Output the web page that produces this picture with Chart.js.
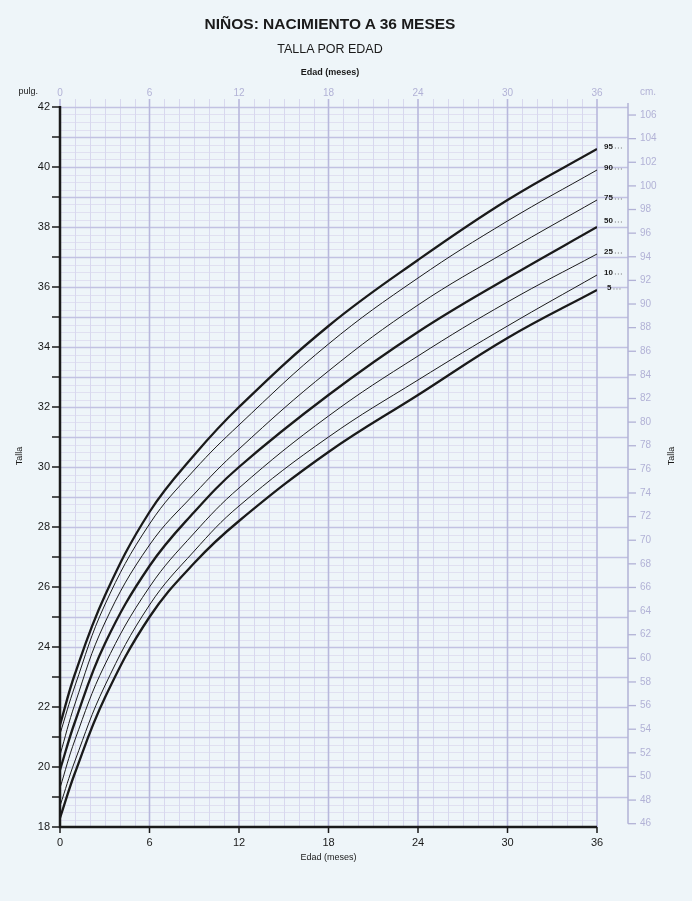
<!DOCTYPE html>
<html lang="es">
<head>
  <meta charset="UTF-8">
  <title>Niños: nacimiento a 36 meses - Talla por edad</title>
  <script src="https://cdn.jsdelivr.net/npm/chart.js"></script>
  <style>
    body {
      margin: 0;
      background: #eef5f9;
      font-family: "Liberation Sans", Arial, sans-serif;
    }
    #wrap {
      position: relative;
      width: 692px;
      height: 901px;
    }
    canvas {
      position: absolute;
      left: 0;
      top: 0;
    }
    .t {
      position: absolute;
      left: 0;
      width: 660px;
      text-align: center;
      color: #1a1a1a;
    }
    #title { top: 15px; font-size: 15.5px; font-weight: bold; }
    #subtitle { top: 42px; font-size: 12.5px; }
    #toplabel { top: 67px; font-size: 9px; font-weight: bold; }
  </style>
</head>
<body>
  <div id="wrap">
    <canvas id="chart" width="692" height="901"></canvas>
    <div class="t" id="title">NIÑOS: NACIMIENTO A 36 MESES</div>
    <div class="t" id="subtitle">TALLA POR EDAD</div>
    <div class="t" id="toplabel">Edad (meses)</div>
  </div>

  <script>
    // edad en meses
    const months = [0, 1, 3, 6, 9, 12, 18, 24, 30, 36];
    // talla en pulgadas
    const p5  = [18.3, 19.8, 22.3, 25.0, 26.8, 28.2, 30.5, 32.4, 34.3, 35.9];
    const p10 = [18.7, 20.2, 22.7, 25.4, 27.2, 28.7, 31.0, 32.9, 34.7, 36.4];
    const p25 = [19.3, 20.9, 23.4, 26.0, 27.8, 29.3, 31.7, 33.7, 35.5, 37.1];
    const p50 = [19.9, 21.5, 24.1, 26.7, 28.5, 30.0, 32.4, 34.5, 36.3, 38.0];
    const p75 = [20.4, 22.1, 24.8, 27.4, 29.1, 30.6, 33.2, 35.4, 37.2, 38.9];
    const p90 = [21.1, 22.7, 25.4, 28.1, 29.9, 31.4, 34.1, 36.3, 38.2, 39.9];
    const p95 = [21.4, 23.1, 25.7, 28.5, 30.4, 32.0, 34.7, 36.9, 38.9, 40.6];

    const percentileLabels = ['95', '90', '75', '50', '25', '10', '5'];
    const percentileData = [p95, p90, p75, p50, p25, p10, p5];
    const heavy = ['95', '50', '5'];

    const monthTicks = [0, 6, 12, 18, 24, 30, 36];
    const inchTicks = [18, 20, 22, 24, 26, 28, 30, 32, 34, 36, 38, 40, 42];
    const cmTicks = [46, 48, 50, 52, 54, 56, 58, 60, 62, 64, 66, 68, 70, 72, 74, 76, 78, 80,
                     82, 84, 86, 88, 90, 92, 94, 96, 98, 100, 102, 104, 106];

    const lavender = '#b2b2d6';
    const dark = '#1a1a1a';
    const font = '"Liberation Sans", Arial, sans-serif';

    const datasets = percentileLabels.map((lab, i) => ({
      label: lab,
      data: months.map((m, j) => ({ x: m, y: percentileData[i][j] })),
      borderColor: dark,
      borderWidth: heavy.includes(lab) ? 2.3 : 1,
      pointRadius: 0,
      fill: false,
      tension: 0.4
    }));

    // grid y ejes dibujados con las escalas del grafico
    const paperPlugin = {
      id: 'paper',
      beforeDatasetsDraw(chart) {
        const { ctx, chartArea: a, scales: { x, y } } = chart;
        const top = a.top - 8;
        const cmX = x.getPixelForValue(36) + 31;
        ctx.save();
        // lineas menores horizontales cada 1/4 pulgada
        ctx.strokeStyle = '#e0e0f1';
        ctx.lineWidth = 1;
        for (let v = 18; v < 42; v += 0.25) {
          if (v % 1 === 0) continue;
          const py = Math.round(y.getPixelForValue(v)) + 0.5;
          ctx.beginPath(); ctx.moveTo(a.left, py); ctx.lineTo(a.right, py); ctx.stroke();
        }
        // lineas menores verticales cada mes
        ctx.strokeStyle = '#d8d8ee';
        for (let m = 1; m < 36; m++) {
          if (m % 6 === 0) continue;
          const px = Math.round(x.getPixelForValue(m)) + 0.5;
          ctx.beginPath(); ctx.moveTo(px, top); ctx.lineTo(px, a.bottom); ctx.stroke();
        }
        // lineas mayores horizontales cada pulgada
        ctx.strokeStyle = '#c2c2e2';
        ctx.lineWidth = 1.3;
        for (let v = 19; v <= 42; v++) {
          const py = Math.round(y.getPixelForValue(v)) + 0.5;
          ctx.beginPath(); ctx.moveTo(a.left, py); ctx.lineTo(cmX, py); ctx.stroke();
        }
        // lineas mayores verticales cada 6 meses
        ctx.strokeStyle = '#b8b8dc';
        ctx.lineWidth = 1.6;
        monthTicks.forEach(m => {
          const px = x.getPixelForValue(m);
          ctx.beginPath(); ctx.moveTo(px, top); ctx.lineTo(px, a.bottom); ctx.stroke();
        });
        // eje de centimetros
        const y2 = chart.scales.y2;
        ctx.strokeStyle = lavender;
        ctx.lineWidth = 1.5;
        ctx.beginPath(); ctx.moveTo(cmX, top + 4); ctx.lineTo(cmX, y2.getPixelForValue(46)); ctx.stroke();
        ctx.restore();
      },
      afterDatasetsDraw(chart) {
        const { ctx, chartArea: a, scales: { x, y, y2 } } = chart;
        const cmX = x.getPixelForValue(36) + 31;
        ctx.save();

        // eje izquierdo (pulgadas)
        ctx.strokeStyle = dark;
        ctx.lineWidth = 2.5;
        ctx.beginPath();
        ctx.moveTo(a.left, a.top - 1);
        ctx.lineTo(a.left, a.bottom);
        ctx.lineTo(a.right, a.bottom);
        ctx.stroke();
        ctx.lineWidth = 1.5;
        for (let v = 18; v <= 42; v++) {
          const py = y.getPixelForValue(v);
          ctx.beginPath(); ctx.moveTo(a.left - 8, py); ctx.lineTo(a.left, py); ctx.stroke();
        }
        ctx.fillStyle = dark;
        ctx.font = '11px ' + font;
        ctx.textAlign = 'right';
        ctx.textBaseline = 'middle';
        inchTicks.forEach(v => ctx.fillText(String(v), a.left - 10, y.getPixelForValue(v)));

        // eje inferior (meses)
        ctx.lineWidth = 1.5;
        ctx.textAlign = 'center';
        ctx.textBaseline = 'top';
        monthTicks.forEach(m => {
          const px = x.getPixelForValue(m);
          ctx.beginPath(); ctx.moveTo(px, a.bottom); ctx.lineTo(px, a.bottom + 6); ctx.stroke();
          ctx.fillText(String(m), px, a.bottom + 10);
        });
        ctx.font = '9px ' + font;
        ctx.fillText('Edad (meses)', x.getPixelForValue(18), a.bottom + 26);

        // etiquetas superiores
        ctx.fillStyle = lavender;
        ctx.font = '10px ' + font;
        ctx.textBaseline = 'middle';
        monthTicks.forEach(m => ctx.fillText(String(m), x.getPixelForValue(m), a.top - 14));
        ctx.textAlign = 'left';
        ctx.fillText('cm.', cmX + 12, a.top - 15);
        ctx.fillStyle = dark;
        ctx.font = '9px ' + font;
        ctx.textAlign = 'right';
        ctx.fillText('pulg.', a.left - 22, a.top - 15);

        // eje derecho (cm)
        ctx.strokeStyle = lavender;
        ctx.fillStyle = lavender;
        ctx.lineWidth = 1.3;
        ctx.font = '10px ' + font;
        ctx.textAlign = 'left';
        cmTicks.forEach(c => {
          const py = y2.getPixelForValue(c);
          ctx.beginPath(); ctx.moveTo(cmX, py); ctx.lineTo(cmX + 8, py); ctx.stroke();
          ctx.fillText(String(c), cmX + 12, py);
        });

        // titulos de eje "Talla"
        ctx.fillStyle = dark;
        ctx.font = '9px ' + font;
        ctx.textAlign = 'center';
        [20, 672].forEach(tx => {
          ctx.save();
          ctx.translate(tx, 456);
          ctx.rotate(-Math.PI / 2);
          ctx.fillText('Talla', 0, 0);
          ctx.restore();
        });

        // etiquetas de percentiles
        ctx.font = 'bold 8px ' + font;
        ctx.textAlign = 'left';
        percentileLabels.forEach((lab, i) => {
          const vals = percentileData[i];
          let py = y.getPixelForValue(vals[vals.length - 1]) - 2;
          if (lab === '50') py -= 4;
          const tx = lab === '5' ? a.right + 10 : a.right + 7;
          ctx.fillStyle = dark;
          ctx.fillText(lab, tx, py);
          const w = ctx.measureText(lab).width;
          ctx.strokeStyle = '#555';
          ctx.lineWidth = 0.8;
          ctx.setLineDash([1, 2]);
          ctx.beginPath(); ctx.moveTo(tx + w + 2, py + 1); ctx.lineTo(tx + w + 9, py + 1); ctx.stroke();
          ctx.setLineDash([]);
        });
        ctx.restore();
      }
    };

    new Chart(document.getElementById('chart').getContext('2d'), {
      type: 'line',
      data: { datasets: datasets },
      options: {
        responsive: false,
        animation: false,
        devicePixelRatio: 1,
        layout: { padding: { left: 60, top: 107, right: 95, bottom: 74 } },
        plugins: { legend: { display: false }, tooltip: { enabled: false } },
        scales: {
          x: { type: 'linear', min: 0, max: 36, display: false },
          y: { type: 'linear', min: 18, max: 42, display: false },
          y2: { type: 'linear', min: 18 * 2.54, max: 42 * 2.54, display: false }
        }
      },
      plugins: [paperPlugin]
    });
  </script>
</body>
</html>
